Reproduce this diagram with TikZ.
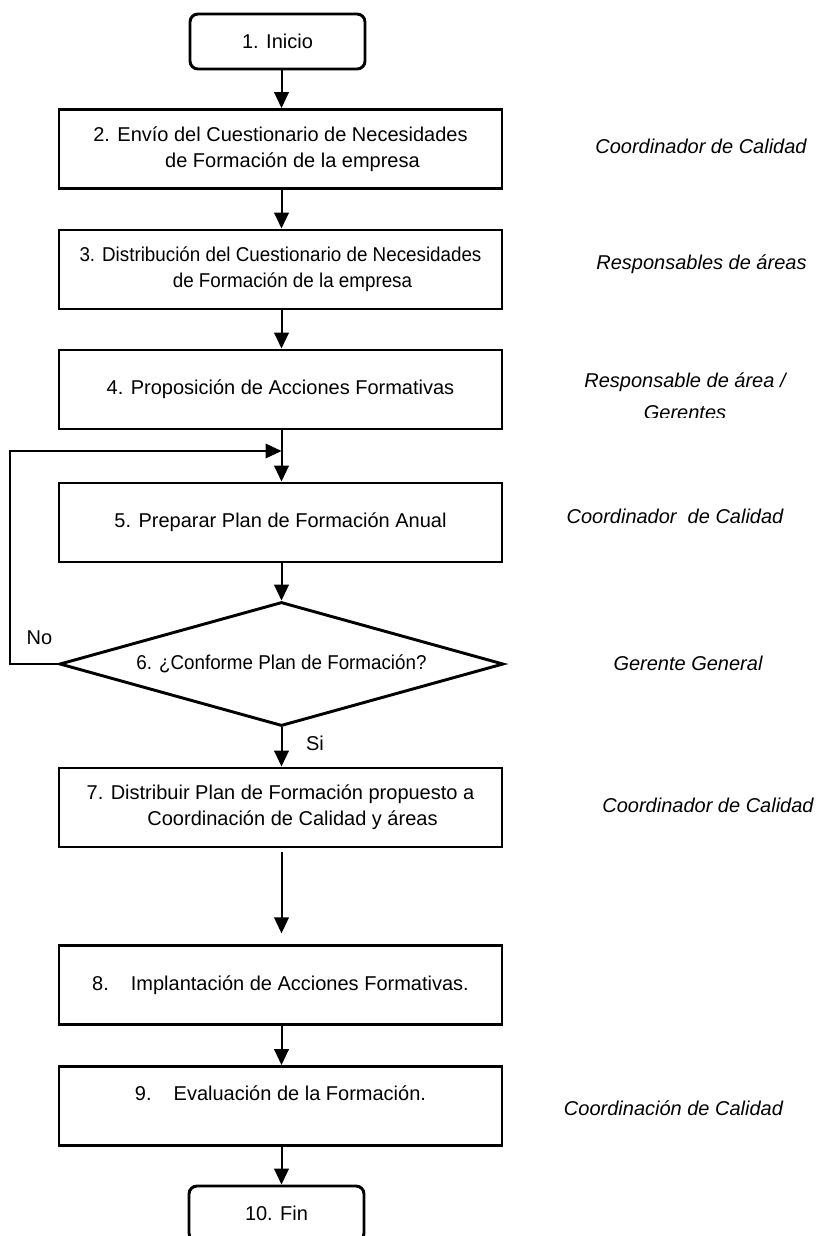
\documentclass[tikz,border=0pt]{standalone}
\usepackage{fontspec}
\setmainfont{Liberation Sans}
\newfontfamily\condfont[FakeStretch=0.94]{Liberation Sans}
\usetikzlibrary{arrows.meta,shapes.geometric}
\begin{document}
\begin{tikzpicture}[x=0.75pt,y=-0.75pt,
  font=\fontsize{15}{19.5}\selectfont,
  box/.style={draw, line width=2.2pt, minimum width=443*0.75pt, minimum height=79*0.75pt, align=center, inner sep=0pt},
  term/.style={draw, line width=2.2pt, rounded corners=6pt, minimum width=175*0.75pt, minimum height=55*0.75pt, inner sep=0pt},
  decision/.style={draw, diamond, line width=2.2pt, minimum width=444*0.75pt, minimum height=124*0.75pt, aspect=3.58, inner sep=0pt},
  role/.style={font=\fontsize{15}{19.5}\selectfont\itshape, inner sep=0pt},
  lbl/.style={inner sep=0pt},
  arr/.style={line width=1.5pt, -{Triangle[length=12pt,width=11pt]}},
  back/.style={line width=1pt, -{Triangle[length=12pt,width=11pt]}}]
\useasboundingbox (0,0) rectangle (823,1236);
\clip (0,0) rectangle (823,1236);
\fill[white] (0,0) rectangle (823,1236);

\coordinate (ax) at (281.5,0);

\node[term] (n1) at (277.5,41.5) {1. Inicio};
\node[box] (n2) at (280.5,149) {2. Envío del Cuestionario de Necesidades\\\hspace*{18pt}de Formación de la empresa};
\node[box, font={\condfont\fontsize{15}{19.5}\selectfont}] (n3) at (280.5,269.5) {3. Distribución del Cuestionario de Necesidades\\\hspace*{18pt}de Formación de la empresa};
\node[box] (n4) at (280.5,389.5) {4. Proposición de Acciones Formativas};
\node[box] (n5) at (280.5,522.5) {5. Preparar Plan de Formación Anual};
\node[decision, font={\condfont\fontsize{15}{19.5}\selectfont}] (n6) at (281.5,664) {6. ¿Conforme Plan de Formación?};
\node[box] (n7) at (280.5,807.5) {7. Distribuir Plan de Formación propuesto a\\\hspace*{18pt}Coordinación de Calidad y áreas};
\node[box] (n8) at (280.5,985) {8.\hspace{16.5pt}Implantación de Acciones Formativas.};
\node[box] (n9) at (280.5,1106) {\raisebox{19.5pt}{9.\hspace{16.5pt}Evaluación de la Formación.}};
\node[term] (n10) at (276.5,1213.5) {10. Fin};

\draw[arr] (n1.south -| ax) -- (n2.north -| ax);
\draw[arr] (n2.south -| ax) -- (n3.north -| ax);
\draw[arr] (n3.south -| ax) -- (n4.north -| ax);
\draw[arr] (n4.south -| ax) -- (n5.north -| ax);
\draw[arr] (n5.south -| ax) -- (n6.north);
\draw[arr] (n6.south) -- (n7.north -| ax);
\draw[arr, shorten <=3pt, shorten >=8pt] (n7.south -| ax) -- (n8.north -| ax);
\draw[arr] (n8.south -| ax) -- (n9.north -| ax);
\draw[arr] (n9.south -| ax) -- (n10.north -| ax);

\coordinate (lp) at (10,451);
\coordinate (lj) at (281.5,451);
\draw[back] (n6.west) -| (lp) -- (lj);

\node[lbl] (no) at (39.5,638) {No};
\node[lbl] (si) at (315,743) {Si};

\node[role] (r2) at (701,146) {Coordinador de Calidad};
\node[role] (r3) at (701.5,264) {Responsables de áreas};
\begin{scope}
  \clip (500,300) rectangle (823,417);
  \node[role, align=center, font=\fontsize{15}{24}\selectfont\itshape] (r4) at (685,396) {Responsable de área /\\Gerentes};
\end{scope}
\node[role] (r5) at (675,516) {Coordinador\ \ de Calidad};
\node[role] (r6) at (688,663) {Gerente General};
\node[role] (r7) at (708,805) {Coordinador de Calidad};
\node[role] (r9) at (673.5,1108) {Coordinación de Calidad};
\end{tikzpicture}
\end{document}
